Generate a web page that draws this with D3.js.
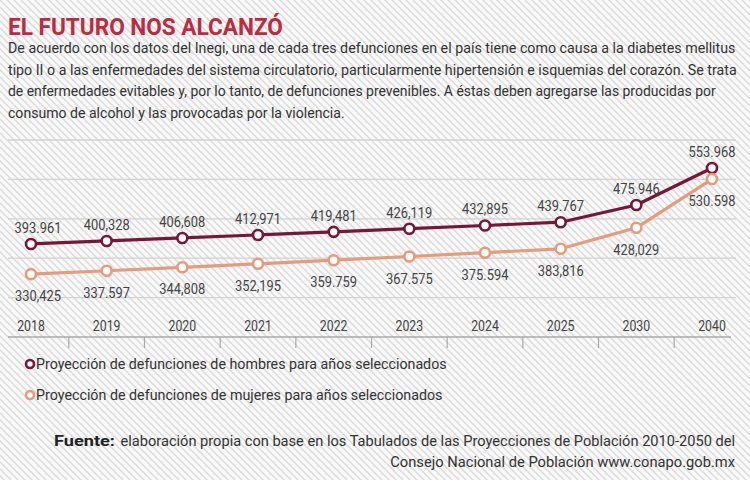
<!DOCTYPE html>
<html><head><meta charset="utf-8">
<script src="https://cdn.jsdelivr.net/npm/d3@7"></script>
<style>
html,body{margin:0;padding:0;background:#fff;}
svg{display:block;}
text{font-family:Roboto,"Noto Sans",sans-serif;}
</style></head>
<body>
<svg id="chart" width="750" height="500"></svg>
<script>
// ---- data ----
const years = ["2018","2019","2020","2021","2022","2023","2024","2025","2030","2040"];
const hombres = [393961,400328,406608,412971,419481,426119,432895,439767,475946,553968];
const mujeres = [330425,337597,344808,352195,359759,367575,375594,383816,428029,530598];
const hombresLabels = ["393.961","400,328","406,608","412,971","419,481","426,119","432,895","439.767","475.946","553.968"];
const mujeresLabels = ["330,425","337.597","344,808","352,195","359.759","367.575","375.594","383,816","428,029","530.598"];
const seriesNames = ["Proyección de defunciones de hombres para años seleccionados",
                     "Proyección de defunciones de mujeres para años seleccionados"];
const title = "EL FUTURO NOS ALCANZÓ";
const bodyLines = [
 "De acuerdo con los datos del Inegi, una de cada tres defunciones en el país tiene como causa a la diabetes mellitus",
 "tipo II o a las enfermedades del sistema circulatorio, particularmente hipertensión e isquemias del corazón. Se trata",
 "de enfermedades evitables y, por lo tanto, de defunciones prevenibles. A éstas deben agregarse las producidas por",
 "consumo de alcohol y las provocadas por la violencia."
];
const sourceBold = "Fuente:";
const sourceLines = ["elaboración propia con base en los Tabulados de las Proyecciones de Población 2010-2050 del",
                     "Consejo Nacional de Población www.conapo.gob.mx"];

// ---- setup ----
const svg = d3.select("#chart");
const MEN = "#7a1538", WOMEN = "#e69c7c", TXT = "#333";

const defs = svg.append("defs");
const pat = defs.append("pattern").attr("id","hatch").attr("patternUnits","userSpaceOnUse")
  .attr("width",7).attr("height",7);
pat.append("rect").attr("width",7).attr("height",7).attr("fill","#f9f9f9");
pat.append("path").attr("d","M-1,-1 L8,8 M-1,6 L1,8 M6,-1 L8,1").attr("stroke","#dcdcdc").attr("stroke-width",1.5);
svg.append("rect").attr("width",750).attr("height",480).attr("fill","url(#hatch)");

// horizontally squeeze text via transform so it keeps a condensed look
function squeeze(sel, widthFn){
  sel.each(function(d,i){
    const t = d3.select(this);
    const n = this.getComputedTextLength();
    const w = typeof widthFn === "function" ? widthFn(d,i,n) : widthFn;
    const k = w / n;
    const x0 = +t.attr("x") || 0, y0 = +t.attr("y") || 0;
    t.attr("x",0).attr("y",0).attr("transform",`translate(${x0},${y0}) scale(${k},1)`);
  });
  return sel;
}

// title
squeeze(svg.append("text").attr("x",8).attr("y",35).attr("font-size",24).attr("font-weight",700)
  .attr("fill","#bf2a40").text(title), 275);

// body
const bodyWidths = [728, 729, 708, 337];
squeeze(svg.append("g").selectAll("text").data(bodyLines).join("text")
  .attr("x",8).attr("y",(d,i)=>53+i*21.7).attr("font-size",15.5).attr("fill",TXT).text(d=>d),
  (d,i)=>bodyWidths[i]);

// ---- chart ----
const x = d3.scalePoint().domain(years).range([31,712]);
const y = d3.scaleLinear().domain([300000,560000]).range([288.6,165.1]);

const gridTop = 140, axisY = 337;
const gridYs = d3.range(5).map(i => gridTop + i*(axisY-gridTop)/5);
svg.append("g").selectAll("line").data(gridYs).join("line")
  .attr("x1",8).attr("x2",736).attr("y1",d=>d).attr("y2",d=>d)
  .attr("stroke","#d2d2d2").attr("stroke-width",1.3);

svg.append("line").attr("x1",8).attr("x2",731).attr("y1",axisY).attr("y2",axisY)
  .attr("stroke","#a8a8a8").attr("stroke-width",1.5);
const step = x.step();
svg.append("g").selectAll("line").data(years.slice(0,-1)).join("line")
  .attr("x1",d=>x(d)+step/2).attr("x2",d=>x(d)+step/2).attr("y1",axisY).attr("y2",axisY+11)
  .attr("stroke","#a8a8a8").attr("stroke-width",1.2);
squeeze(svg.append("g").selectAll("text").data(years).join("text")
  .attr("x",d=>x(d)).attr("y",331).attr("text-anchor","middle").attr("font-size",15).attr("fill","#444").text(d=>d),
  (d,i,n)=>n*0.82);

const series = [
  {vals:hombres, labels:hombresLabels, color:MEN, dy:-11},
  {vals:mujeres, labels:mujeresLabels, color:WOMEN, dy:27}
];
const line = d3.line().x((d,i)=>x(years[i])).y(d=>y(d));
series.forEach(s=>{
  svg.append("path").datum(s.vals).attr("d",line).attr("fill","none")
    .attr("stroke",s.color).attr("stroke-width",3.2).attr("stroke-linejoin","round");
});
series.forEach(s=>{
  svg.append("g").selectAll("circle").data(s.vals).join("circle")
    .attr("cx",(d,i)=>x(years[i])).attr("cy",d=>y(d)).attr("r",5)
    .attr("fill","#fff").attr("stroke",s.color).attr("stroke-width",2.6);
  squeeze(svg.append("g").selectAll("text").data(s.vals).join("text")
    .attr("x",(d,i)=>x(years[i]) + (i===0?7:0)).attr("y",d=>y(d)+s.dy)
    .attr("text-anchor","middle").attr("font-size",15).attr("fill","#444")
    .text((d,i)=>s.labels[i]), (d,i,n)=>n*0.86);
});

// legend
const leg = svg.append("g");
[MEN, WOMEN].forEach((c,i)=>{
  leg.append("circle").attr("cx",30).attr("cy",364+i*31).attr("r",4).attr("fill","#fff")
    .attr("stroke",c).attr("stroke-width",2.6);
  squeeze(leg.append("text").attr("x",36).attr("y",369+i*31).attr("font-size",14.5).attr("fill",TXT).text(seriesNames[i]), i===0?411:407);
});

// source
squeeze(svg.append("text").attr("x",54).attr("y",446).attr("font-size",15).attr("font-weight",700).attr("fill","#222").text(sourceBold), 61);
squeeze(svg.append("text").attr("x",735).attr("y",446).attr("text-anchor","end").attr("font-size",15).attr("fill",TXT).text(sourceLines[0]), 615);
squeeze(svg.append("text").attr("x",735).attr("y",467).attr("text-anchor","end").attr("font-size",15).attr("fill",TXT).text(sourceLines[1]), 345);
</script>
</body></html>
